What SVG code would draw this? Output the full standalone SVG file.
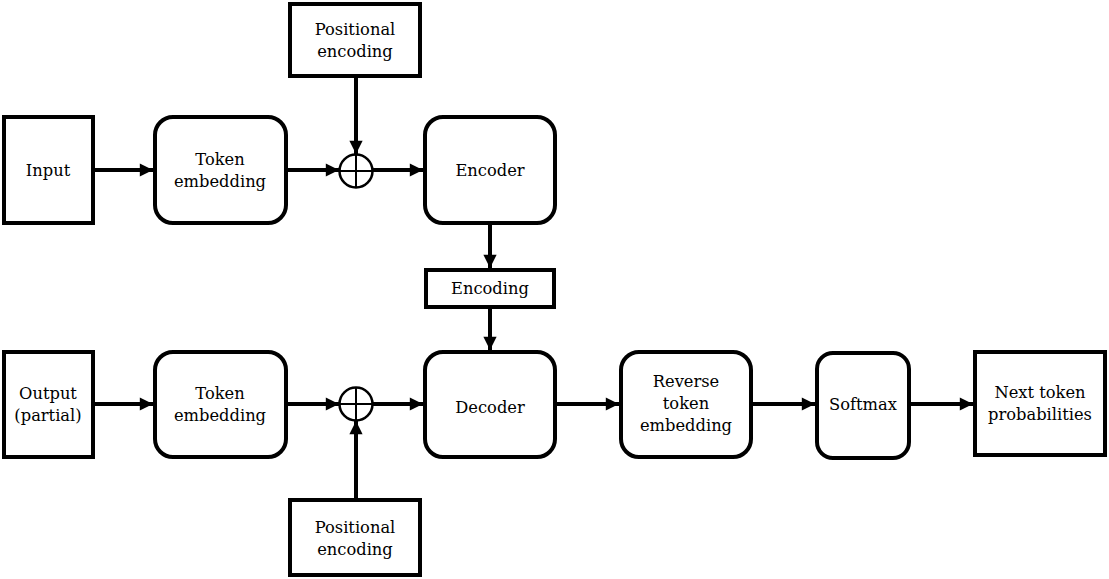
<svg xmlns="http://www.w3.org/2000/svg" width="1109" height="579" viewBox="0 0 1109 579">
<style>
.box{fill:#fff;stroke:#000;stroke-width:4}
.c{fill:none;stroke:#000;stroke-width:4}
.pl{fill:#fff;stroke:#000;stroke-width:2.5}
text{font-family:"DejaVu Serif","Liberation Serif",serif;font-size:16.3px;text-anchor:middle;fill:#000}
</style>
<defs>
<marker id="ah" viewBox="0 0 10 10" refX="10" refY="5" markerWidth="3.6" markerHeight="3.3" orient="auto" markerUnits="strokeWidth">
<path d="M0,0 L10,5 L0,10 z" fill="#000"/>
</marker>
</defs>
<rect width="1109" height="579" fill="#fff"/>
<g id="connectors">
<line class="c" x1="95" y1="170" x2="153" y2="170" marker-end="url(#ah)"/>
<line class="c" x1="288" y1="170" x2="339" y2="170" marker-end="url(#ah)"/>
<line class="c" x1="356" y1="78" x2="356" y2="154" marker-end="url(#ah)"/>
<line class="c" x1="373" y1="170" x2="423" y2="170" marker-end="url(#ah)"/>
<line class="c" x1="490" y1="225" x2="490" y2="268" marker-end="url(#ah)"/>
<line class="c" x1="490" y1="309" x2="490" y2="350" marker-end="url(#ah)"/>
<line class="c" x1="95" y1="404" x2="153" y2="404" marker-end="url(#ah)"/>
<line class="c" x1="288" y1="404" x2="339" y2="404" marker-end="url(#ah)"/>
<line class="c" x1="356" y1="498" x2="356" y2="421" marker-end="url(#ah)"/>
<line class="c" x1="373" y1="404" x2="423" y2="404" marker-end="url(#ah)"/>
<line class="c" x1="557" y1="404" x2="619" y2="404" marker-end="url(#ah)"/>
<line class="c" x1="753" y1="404" x2="815" y2="404" marker-end="url(#ah)"/>
<line class="c" x1="911" y1="404" x2="973" y2="404" marker-end="url(#ah)"/>
</g>
<g id="input"><rect class="box" x="4" y="117" width="89" height="106"/><text x="48" y="176">Input</text></g>
<g id="tokemb1"><rect class="box" x="155" y="117" width="131" height="106" rx="18"/><text x="220" y="165">Token</text><text x="220" y="187">embedding</text></g>
<g id="posenc1"><rect class="box" x="290" y="4" width="130" height="72"/><text x="355" y="35">Positional</text><text x="355" y="57">encoding</text></g>
<g id="plus1"><circle class="pl" cx="356" cy="171" r="16.5"/><line x1="339.5" y1="171" x2="372.5" y2="171" stroke="#000" stroke-width="2"/><line x1="356" y1="154.5" x2="356" y2="187.5" stroke="#000" stroke-width="2"/></g>
<g id="encoder"><rect class="box" x="425" y="117" width="130" height="106" rx="18"/><text x="490" y="176">Encoder</text></g>
<g id="encoding"><rect class="box" x="426" y="270" width="128" height="37"/><text x="490" y="294">Encoding</text></g>
<g id="output"><rect class="box" x="4" y="352" width="89" height="105"/><text x="48" y="399">Output</text><text x="48" y="421">(partial)</text></g>
<g id="tokemb2"><rect class="box" x="155" y="352" width="131" height="105" rx="18"/><text x="220" y="399">Token</text><text x="220" y="421">embedding</text></g>
<g id="plus2"><circle class="pl" cx="356" cy="404" r="16.5"/><line x1="339.5" y1="404" x2="372.5" y2="404" stroke="#000" stroke-width="2"/><line x1="356" y1="387.5" x2="356" y2="420.5" stroke="#000" stroke-width="2"/></g>
<g id="posenc2"><rect class="box" x="290" y="500" width="130" height="75"/><text x="355" y="533">Positional</text><text x="355" y="555">encoding</text></g>
<g id="decoder"><rect class="box" x="425" y="352" width="130" height="105" rx="18"/><text x="490" y="413">Decoder</text></g>
<g id="reverse"><rect class="box" x="621" y="352" width="130" height="105" rx="18"/><text x="686" y="387">Reverse</text><text x="686" y="409">token</text><text x="686" y="431">embedding</text></g>
<g id="softmax"><rect class="box" x="817" y="353" width="92" height="105" rx="16"/><text x="863" y="410">Softmax</text></g>
<g id="next"><rect class="box" x="975" y="352" width="130" height="103"/><text x="1040" y="398">Next token</text><text x="1040" y="420">probabilities</text></g>
</svg>
